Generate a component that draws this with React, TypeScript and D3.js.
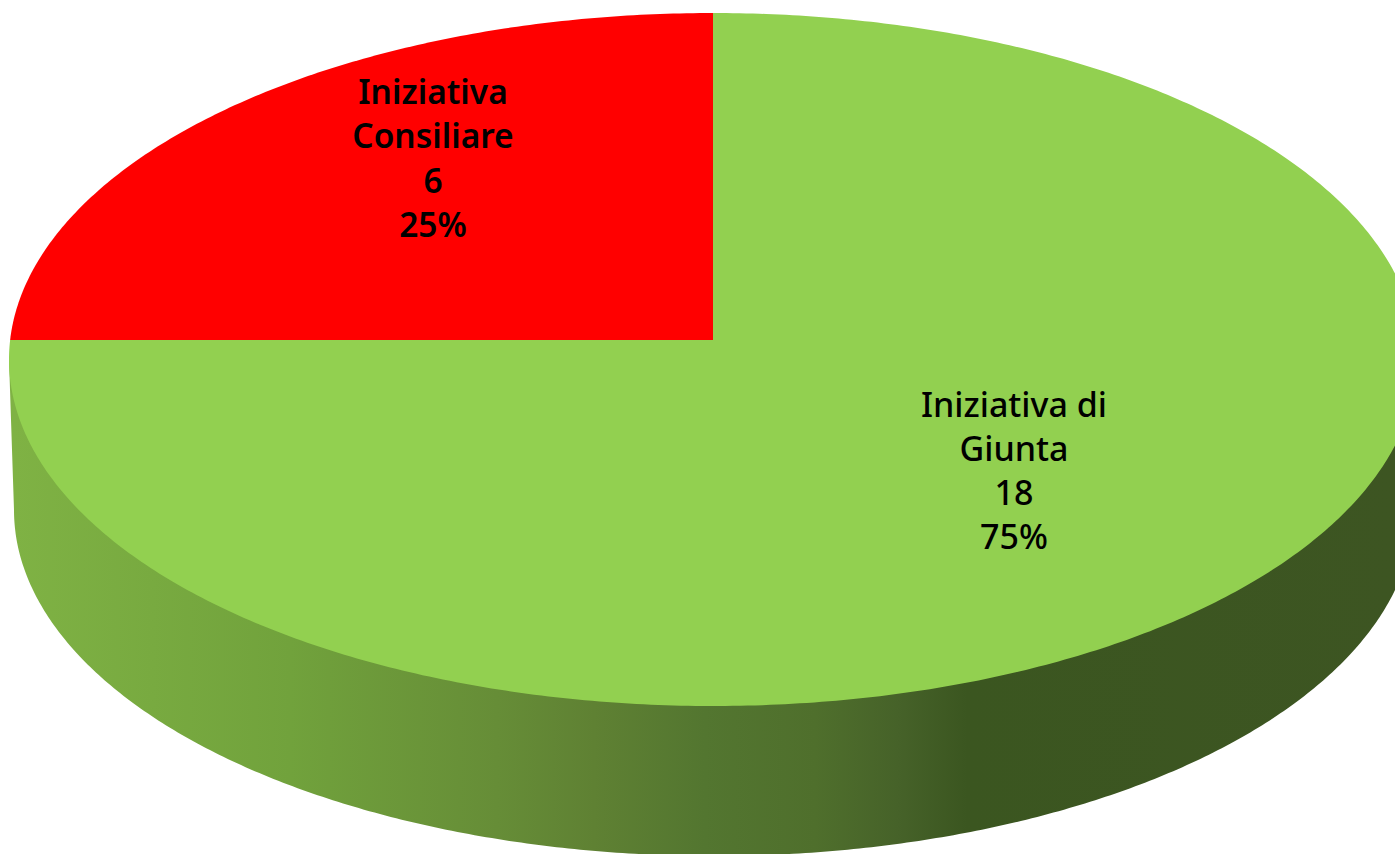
import React from 'react';
import * as d3 from 'd3';

const categories = ['Iniziativa Consiliare', 'Iniziativa di Giunta'];
const seriesValues = [6, 18];
const percentLabels = ['25%', '75%'];
const labelLines = [['Iniziativa', 'Consiliare'], ['Iniziativa di', 'Giunta']];
const sliceColors = ['#ff0000', '#92d050'];

const sideStops = [
    ['0%', '#7fb244'],
    ['20%', '#71a23c'],
    ['35%', '#668d37'],
    ['42%', '#5f8133'],
    ['50%', '#537630'],
    ['58%', '#4f6f2c'],
    ['64%', '#466229'],
    ['69%', '#3b5620'],
    ['100%', '#3d5522'],
];

// top face of the disc, seen in perspective
const top = { cx: 713, cy: 359.5, rx: 704, ry: 346.5 };
const apexY = 340;
const tilt = (apexY - top.cy) / top.ry;
const bottom = { cx: 714, cy: 510, rx: 700, ry: 346 };

// angle on the pie -> point on the tilted ellipse, the pie centre lands on the apex
const project = (angle: number, r = 1): [number, number] => {
    const u = Math.sin(angle) * r;
    const v = -Math.cos(angle) * r;
    const w = 1 + tilt * v;
    return [
        top.cx + top.rx * (u * Math.sqrt(1 - tilt * tilt)) / w,
        top.cy + top.ry * ((v + tilt) / w),
    ];
};

const line = d3.line();

const slicePath = (start: number, end: number) => {
    const steps = Math.ceil((end - start) / 0.01);
    const angles = d3.range(steps + 1).map((i) => start + ((end - start) * i) / steps);
    return line([project(0, 0), ...angles.map((a) => project(a))]) + 'Z';
};

const sidePath = () => {
    const angles = d3.range(0, 361).map((d) => (d * Math.PI) / 360);
    const rim: [number, number][] = angles.map((a) => [
        bottom.cx - bottom.rx * Math.cos(a),
        bottom.cy + bottom.ry * Math.sin(a),
    ]);
    return line([
        [top.cx - top.rx, top.cy],
        ...rim,
        [top.cx + top.rx, top.cy],
    ]) + 'Z';
};

const App = () => {
    const pie = d3.pie<number>().sort(null).startAngle(-Math.PI / 2).endAngle((3 * Math.PI) / 2);
    const slices = pie(seriesValues);

    const labelX = [433, 1014];
    const labelY = [104, 417];
    const lineStep = [44.3, 44];
    const labelSize = [33.5, 34];
    const labelWeight = [600, 500];

    return (
        <svg width={1395} height={854} style={{ position: 'absolute', left: 0, top: 0 }}>
            <defs>
                <linearGradient id="side" gradientUnits="userSpaceOnUse" x1={14} x2={1395} y1={0} y2={0}>
                    {sideStops.map(([offset, color]) => (
                        <stop key={offset} offset={offset} stopColor={color} />
                    ))}
                </linearGradient>
            </defs>
            <path d={sidePath()} fill="url(#side)" />
            {slices.map((s, i) => (
                <path key={categories[i]} d={slicePath(s.startAngle, s.endAngle)} fill={sliceColors[i]} />
            ))}
            {slices.map((s, i) => (
                <text
                    key={categories[i]}
                    textAnchor="middle"
                    fontFamily="'Noto Sans', sans-serif"
                    fontWeight={labelWeight[i]}
                    fontSize={labelSize[i]}
                    fill="#000"
                >
                    {[...labelLines[i], String(s.value), percentLabels[i]].map((t, j) => (
                        <tspan key={j} x={labelX[i]} y={labelY[i] + j * lineStep[i]}>{t}</tspan>
                    ))}
                </text>
            ))}
        </svg>
    );
};

export default App;
